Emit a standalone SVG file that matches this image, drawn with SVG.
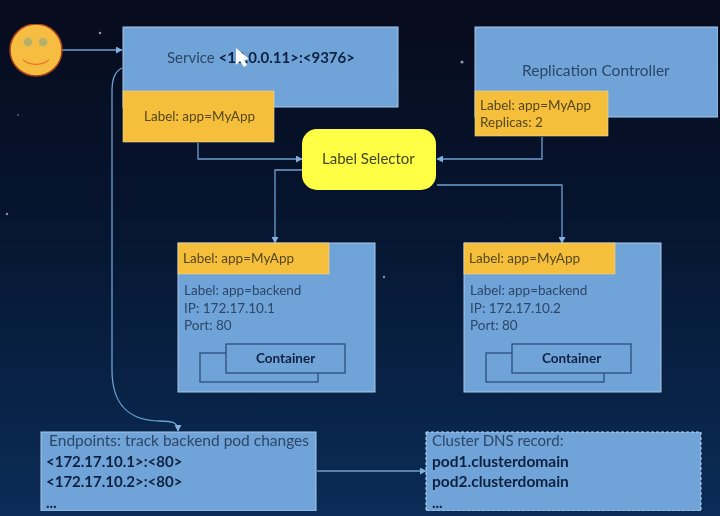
<svg xmlns="http://www.w3.org/2000/svg" width="720" height="516" viewBox="0 0 720 516">
<style>
text{font-family:Lato,"Liberation Sans",sans-serif;font-size:13.500px;fill:#2c4668}
.dk{fill:#54461f}
.b{font-weight:700;fill:#0f2140}
.m{font-size:15px}
.l{font-size:15.500px}
.box{fill:#70a3d8;stroke:#a9c8e8;stroke-width:1}
.lab{fill:#f5bf3a;stroke:#e9d9a0;stroke-width:.6}
.cn{fill:#70a3d8;stroke:#2b4f80;stroke-width:1.300}
.c{fill:none;stroke:#6f9fd0;stroke-width:1.300;marker-end:url(#a)}
</style>
<defs>
<linearGradient id="bg" x1="0" y1="0" x2="0" y2="1">
<stop offset="0" stop-color="#070b1c"/><stop offset=".4" stop-color="#06142e"/><stop offset="1" stop-color="#0a2c57"/>
</linearGradient>
<marker id="a" markerWidth="7" markerHeight="7" refX="6" refY="3.500" orient="auto" markerUnits="userSpaceOnUse"><path d="M0 0L6.500 3.500L0 7z" fill="#7fb0e0"/></marker>
<filter id="soft" x="0" y="0" width="1" height="1" filterUnits="objectBoundingBox"><feGaussianBlur stdDeviation=".5"/></filter>
</defs>
<rect width="720" height="516" fill="url(#bg)"/>
<g filter="url(#soft)">
<g fill="#8a94a8"><circle cx="100" cy="33" r="1.300"/><circle cx="462" cy="62" r="1.600"/><circle cx="384" cy="277" r="1.200"/><circle cx="7" cy="214" r="1.200"/><circle cx="18" cy="115" r=".8"/></g>
<g id="connectors">
<path class="c" d="M62 50H122"/>
<path class="c" d="M198 143V159H302"/>
<path class="c" d="M542 137V159H437"/>
<path class="c" d="M302 170H275V243"/>
<path class="c" d="M437 185H562V243"/>
<path class="c" d="M122 68C114 72 112 80 112 92V370C112 405 130 421 160 421C172 421 178 422 178 431"/>
<path class="c" d="M317 471H426"/>
</g>
<g id="user"><circle cx="36" cy="50" r="26" fill="#f7bd3f" stroke="#a8401c" stroke-width="1.500"/><circle cx="28" cy="42" r="4.500" fill="#b9ae62" stroke="#d8c26c"/><circle cx="43" cy="42" r="4.500" fill="#b9ae62" stroke="#d8c26c"/><path d="M23 60Q36 69 49 60" fill="none" stroke="#e9792c" stroke-width="1.500"/></g>
<g id="service"><rect class="box" x="123" y="27" width="275" height="80"/>
<text class="m" x="167" y="63">Service <tspan class="b">&lt;10.0.0.11&gt;:&lt;9376&gt;</tspan></text>
<rect class="lab" x="123" y="91" width="151" height="51"/><text class="dk" x="144" y="121">Label: app=MyApp</text></g>
<path d="M236 48V65L240 61L244 67L247 65L244 60L249 59Z" fill="#fff"/>
<g id="replication-controller"><rect class="box" x="475" y="27" width="243" height="90"/>
<text class="l" x="522" y="76">Replication Controller</text>
<rect class="lab" x="475" y="91" width="133" height="45"/><text class="dk" x="480" y="110">Label: app=MyApp</text><text class="dk" x="480" y="127">Replicas: 2</text></g>
<g id="label-selector"><rect x="302" y="129" width="134" height="61" rx="15" fill="#ffff44"/><text class="m" x="322" y="164" style="fill:#3d4420">Label Selector</text></g>
<g id="pod1"><rect class="box" x="178" y="243" width="197" height="149"/><rect class="lab" x="178" y="243" width="151" height="31"/>
<text class="dk" x="183" y="263">Label: app=MyApp</text><text x="184" y="295">Label: app=backend</text><text x="184" y="313">IP: 172.17.10.1</text><text x="184" y="330">Port: 80</text>
<rect class="cn" x="200" y="353" width="118" height="29"/><rect class="cn" x="226" y="344" width="119" height="29"/><text class="b" x="256" y="363">Container</text></g>
<g id="pod2"><rect class="box" x="464" y="243" width="197" height="149"/><rect class="lab" x="464" y="243" width="151" height="31"/>
<text class="dk" x="469" y="263">Label: app=MyApp</text><text x="470" y="295">Label: app=backend</text><text x="470" y="313">IP: 172.17.10.2</text><text x="470" y="330">Port: 80</text>
<rect class="cn" x="486" y="353" width="118" height="29"/><rect class="cn" x="512" y="344" width="119" height="29"/><text class="b" x="542" y="363">Container</text></g>
<g id="endpoints"><rect class="box" x="41" y="432" width="275" height="79"/>
<text class="l" x="49" y="446">Endpoints: track backend pod changes</text><text class="b m" x="46" y="467">&lt;172.17.10.1&gt;:&lt;80&gt;</text><text class="b m" x="46" y="487">&lt;172.17.10.2&gt;:&lt;80&gt;</text><text class="b m" x="46" y="508">...</text></g>
<g id="dns"><rect x="426" y="432" width="275" height="79" fill="#70a3d8" stroke="#c5d8ec" stroke-dasharray="3 2"/>
<text class="m" x="432" y="446">Cluster DNS record:</text><text class="b l" x="432" y="467">pod1.clusterdomain</text><text class="b l" x="432" y="487">pod2.clusterdomain</text><text class="b m" x="432" y="508">...</text></g>
</g>
</svg>
